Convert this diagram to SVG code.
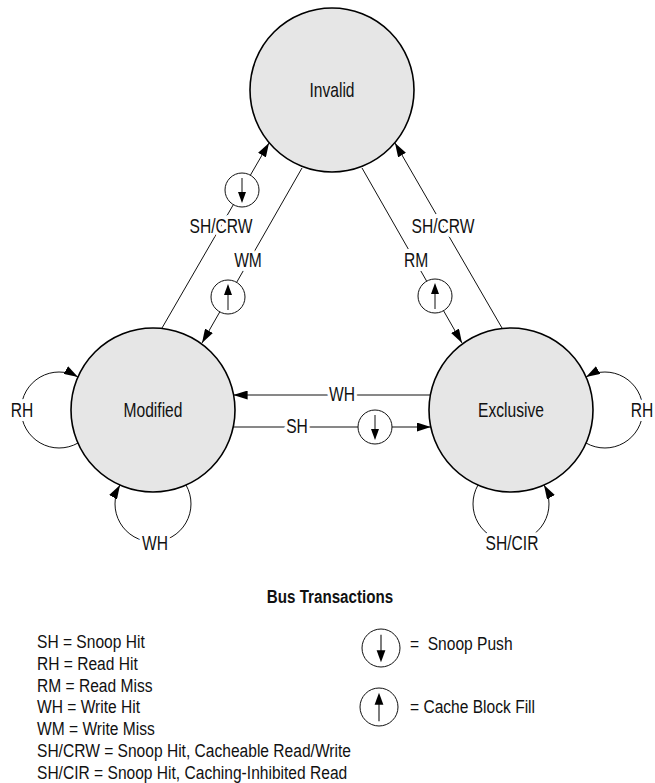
<svg xmlns="http://www.w3.org/2000/svg" width="655" height="783" viewBox="0 0 655 783">
<style>
text{font-family:"Liberation Sans",Arial,sans-serif;font-size:19px;fill:#111}
.state{fill:#e6e6e6;stroke:#000;stroke-width:1.6}
.conn{fill:none;stroke:#111;stroke-width:1}
.sym{fill:#fff;stroke:#111;stroke-width:1}
.lbl{text-anchor:middle;stroke:#fff;stroke-width:8;stroke-linejoin:round;paint-order:stroke;font-size:20px}
.mid{text-anchor:middle;font-size:20px}
.head{fill:#000;stroke:none}
.title{font-weight:bold;text-anchor:middle;font-size:18.5px}
</style>
<defs>
<marker id="ah" markerUnits="userSpaceOnUse" markerWidth="14" markerHeight="9" refX="14" refY="4.5" orient="auto" viewBox="0 0 14 9">
<path d="M0,0 L14,4.5 L0,9 Z" fill="#000"/>
</marker>
<g id="push">
<line x1="0" y1="-12" x2="0" y2="3" stroke="#111" stroke-width="1"/>
<path class="head" d="M-4,2 L4,2 L0,13 Z"/>
</g>
<g id="fill">
<line x1="0" y1="-3" x2="0" y2="13" stroke="#111" stroke-width="1"/>
<path class="head" d="M-4,-2 L4,-2 L0,-13 Z"/>
</g>
</defs>

<g id="connectors">
<line class="conn" x1="162" y1="328" x2="269" y2="143" marker-end="url(#ah)"/>
<line class="conn" x1="302" y1="168" x2="202" y2="343" marker-end="url(#ah)"/>
<line class="conn" x1="362" y1="168" x2="462" y2="343" marker-end="url(#ah)"/>
<line class="conn" x1="502" y1="328" x2="395" y2="143" marker-end="url(#ah)"/>
<line class="conn" x1="430.4" y1="395" x2="233.6" y2="395" marker-end="url(#ah)"/>
<line class="conn" x1="233.2" y1="427" x2="430.8" y2="427" marker-end="url(#ah)"/>
<path class="conn" d="M78,443 A38,38 0 1 1 78,377" marker-end="url(#ah)"/>
<path class="conn" d="M586,443 A38,38 0 1 0 586,377" marker-end="url(#ah)"/>
<path class="conn" d="M186,485 A38,38 0 1 1 120,485" marker-end="url(#ah)"/>
<path class="conn" d="M478,485 A38,38 0 1 0 544,485" marker-end="url(#ah)"/>
<circle class="sym" cx="242" cy="190" r="17"/>
<use href="#push" x="242" y="190"/>
<circle class="sym" cx="228" cy="297" r="17"/>
<use href="#fill" x="228" y="297"/>
<circle class="sym" cx="435" cy="296" r="17"/>
<use href="#fill" x="435" y="296"/>
<circle class="sym" cx="375" cy="427" r="17"/>
<use href="#push" x="375" y="427"/>
<text class="lbl" transform="translate(221,233) scale(0.78,1)">SH/CRW</text>
<text class="lbl" transform="translate(443,233) scale(0.78,1)">SH/CRW</text>
<text class="lbl" transform="translate(248,267) scale(0.78,1)">WM</text>
<text class="lbl" transform="translate(416,267) scale(0.78,1)">RM</text>
<text class="lbl" transform="translate(342,401) scale(0.78,1)">WH</text>
<text class="lbl" transform="translate(297,433) scale(0.78,1)">SH</text>
<text class="lbl" transform="translate(22,417) scale(0.78,1)">RH</text>
<text class="lbl" transform="translate(642,417) scale(0.78,1)">RH</text>
<text class="lbl" transform="translate(155,550) scale(0.78,1)">WH</text>
<text class="lbl" transform="translate(512,550) scale(0.78,1)">SH/CIR</text>
</g>

<g id="node-invalid">
<circle class="state" cx="332" cy="90" r="82"/>
<text class="mid" transform="translate(332,97) scale(0.78,1)">Invalid</text>
</g>
<g id="node-modified">
<circle class="state" cx="153" cy="410" r="82"/>
<text class="mid" transform="translate(153,417) scale(0.78,1)">Modified</text>
</g>
<g id="node-exclusive">
<circle class="state" cx="511" cy="410" r="82"/>
<text class="mid" transform="translate(511,417) scale(0.78,1)">Exclusive</text>
</g>

<g id="legend">
<text class="title" transform="translate(330,603) scale(0.82,1)">Bus Transactions</text>
<text transform="translate(37,648) scale(0.82,1)">SH = Snoop Hit</text>
<text transform="translate(37,669.8) scale(0.82,1)">RH = Read Hit</text>
<text transform="translate(37,691.6) scale(0.82,1)">RM = Read Miss</text>
<text transform="translate(37,713.4) scale(0.82,1)">WH = Write Hit</text>
<text transform="translate(37,735.2) scale(0.82,1)">WM = Write Miss</text>
<text transform="translate(37,757) scale(0.82,1)">SH/CRW = Snoop Hit, Cacheable Read/Write</text>
<text transform="translate(37,778.8) scale(0.82,1)">SH/CIR = Snoop Hit, Caching-Inhibited Read</text>
<circle class="sym" cx="381" cy="648" r="19"/>
<g transform="translate(381,648) scale(1.1)"><use href="#push"/></g>
<circle class="sym" cx="379" cy="707" r="19"/>
<g transform="translate(379,707) scale(1.1)"><use href="#fill"/></g>
<text transform="translate(410,650) scale(0.82,1)" xml:space="preserve">=  Snoop Push</text>
<text transform="translate(410,713) scale(0.82,1)">= Cache Block Fill</text>
</g>
</svg>
